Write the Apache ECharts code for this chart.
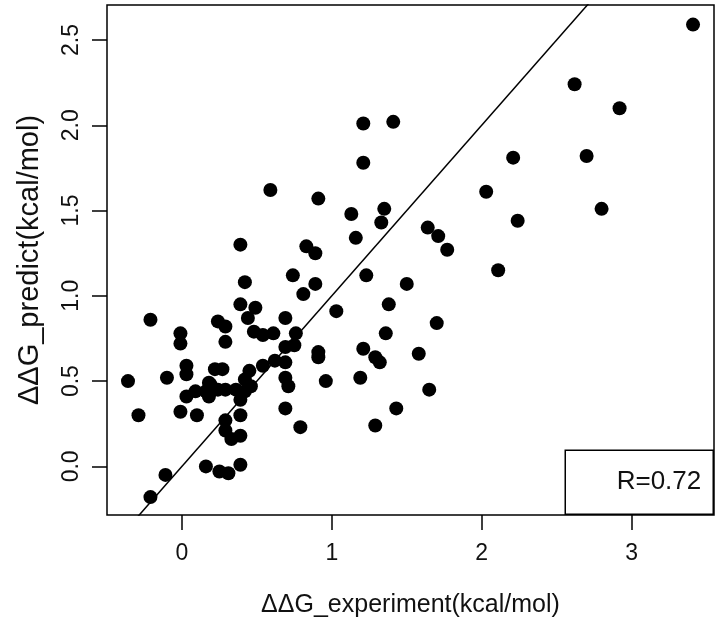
<!DOCTYPE html>
<html>
<head>
<meta charset="utf-8">
<script src="https://cdn.jsdelivr.net/npm/echarts@6/dist/echarts.min.js"></script>
<style>
html,body{margin:0;padding:0;background:#fff;}
#chart{width:720px;height:629px;}
</style>
</head>
<body>
<div id="chart"></div>
<script>
// Experimental ΔΔG (x) and predicted ΔΔG (y), kcal/mol
const expX = [3.41,2.62,2.92,2.70,2.21,2.03,2.80,2.24,2.11,1.21,1.41,1.21,0.59,0.91,1.13,1.35,1.33,1.16,0.39,0.83,
  0.89,1.64,1.71,1.77,0.42,0.74,0.89,0.81,1.23,1.50,0.39,0.49,1.38,1.03,0.44,0.69,-0.21,0.24,0.29,0.29,
  -0.01,-0.01,0.48,0.54,0.61,0.76,1.36,1.70,0.69,0.75,0.91,0.91,1.21,1.29,1.32,1.58,0.62,0.69,0.54,0.45,
  0.03,0.03,0.22,0.27,0.69,0.71,0.96,1.19,1.65,-0.36,-0.10,0.18,0.42,0.46,0.03,0.09,0.16,0.19,0.18,0.24,
  0.29,0.36,0.42,0.39,-0.01,-0.29,0.10,0.39,0.69,0.79,1.29,1.43,0.29,0.29,0.33,0.39,0.16,0.25,0.31,0.39,
  -0.11,-0.21];
const predY = [2.59,2.24,2.10,1.82,1.81,1.61,1.51,1.44,1.15,2.01,2.02,1.78,1.62,1.57,1.48,1.51,1.43,1.34,1.30,1.29,
  1.25,1.40,1.35,1.27,1.08,1.12,1.07,1.01,1.12,1.07,0.95,0.93,0.95,0.91,0.87,0.87,0.86,0.85,0.82,0.73,
  0.78,0.72,0.79,0.77,0.78,0.78,0.78,0.84,0.70,0.71,0.67,0.64,0.69,0.64,0.61,0.66,0.62,0.61,0.59,0.56,
  0.59,0.54,0.57,0.57,0.52,0.47,0.50,0.52,0.45,0.50,0.52,0.49,0.51,0.47,0.41,0.44,0.44,0.48,0.41,0.45,
  0.45,0.45,0.44,0.39,0.32,0.30,0.30,0.30,0.34,0.23,0.24,0.34,0.27,0.21,0.16,0.18,0.00,-0.03,-0.04,0.01,
  -0.05,-0.18];
const xTicks = [0,1,2,3];
const yTicks = [0,0.5,1,1.5,2,2.5];
const identityEnds = [-0.5, 3.6];   // y = x reference line
const xRange = [-0.5, 3.55];
const yRange = [-0.285, 2.705];
const rText = 'R=0.72';
const xTitle = 'ΔΔG_experiment(kcal/mol)';
const yTitle = 'ΔΔG_predict(kcal/mol)';

const points = expX.map((x, i) => [x, predY[i]]);
const FONT = 'Liberation Sans, Arial, sans-serif';

const chart = echarts.init(document.getElementById('chart'), null, {renderer: 'canvas'});
chart.setOption({
  backgroundColor: '#fff',
  animation: false,
  grid: {left: 107, top: 5, right: 6, bottom: 114, show: true, borderColor: '#000', borderWidth: 1.5, backgroundColor: 'transparent'},
  xAxis: {
    type: 'value', min: xRange[0], max: xRange[1],
    name: xTitle, nameLocation: 'middle', nameGap: 78,
    nameTextStyle: {fontFamily: FONT, fontSize: 25, color: '#111'},
    axisLine: {show: false, onZero: false},
    axisTick: {show: true, inside: false, length: 15, lineStyle: {color: '#000', width: 1.5}, customValues: xTicks},
    axisLabel: {fontFamily: FONT, fontSize: 23, color: '#111', margin: 27, customValues: xTicks,
      formatter: v => String(v)},
    splitLine: {show: false}
  },
  yAxis: {
    type: 'value', min: yRange[0], max: yRange[1],
    name: yTitle, nameLocation: 'middle', nameGap: 63,
    nameTextStyle: {fontFamily: FONT, fontSize: 29, color: '#111'},
    axisLine: {show: false, onZero: false},
    axisTick: {show: true, inside: false, length: 15, lineStyle: {color: '#000', width: 1.5}, customValues: yTicks},
    axisLabel: {fontFamily: FONT, fontSize: 23, color: '#111', margin: 24, rotate: 90, customValues: yTicks,
      formatter: v => v.toFixed(1)},
    splitLine: {show: false}
  },
  series: [
    {
      type: 'line', data: identityEnds.map(v => [v, v]), symbol: 'none', clip: true,
      lineStyle: {color: '#000', width: 1.5}, silent: true, z: 2
    },
    {
      type: 'scatter', data: points, symbol: 'circle', symbolSize: 14,
      itemStyle: {color: '#000', opacity: 1}, z: 3
    }
  ],
  graphic: [{
    type: 'group', right: 6, bottom: 114,
    children: [
      {type: 'rect', shape: {x: 0, y: 0, width: 148, height: 64}, style: {fill: '#fff', stroke: '#000', lineWidth: 1.5}},
      {type: 'text', x: 136, y: 32, style: {text: rText, font: '26px ' + FONT, fill: '#111', align: 'right', verticalAlign: 'middle'}}
    ]
  }]
});
</script>
</body>
</html>
